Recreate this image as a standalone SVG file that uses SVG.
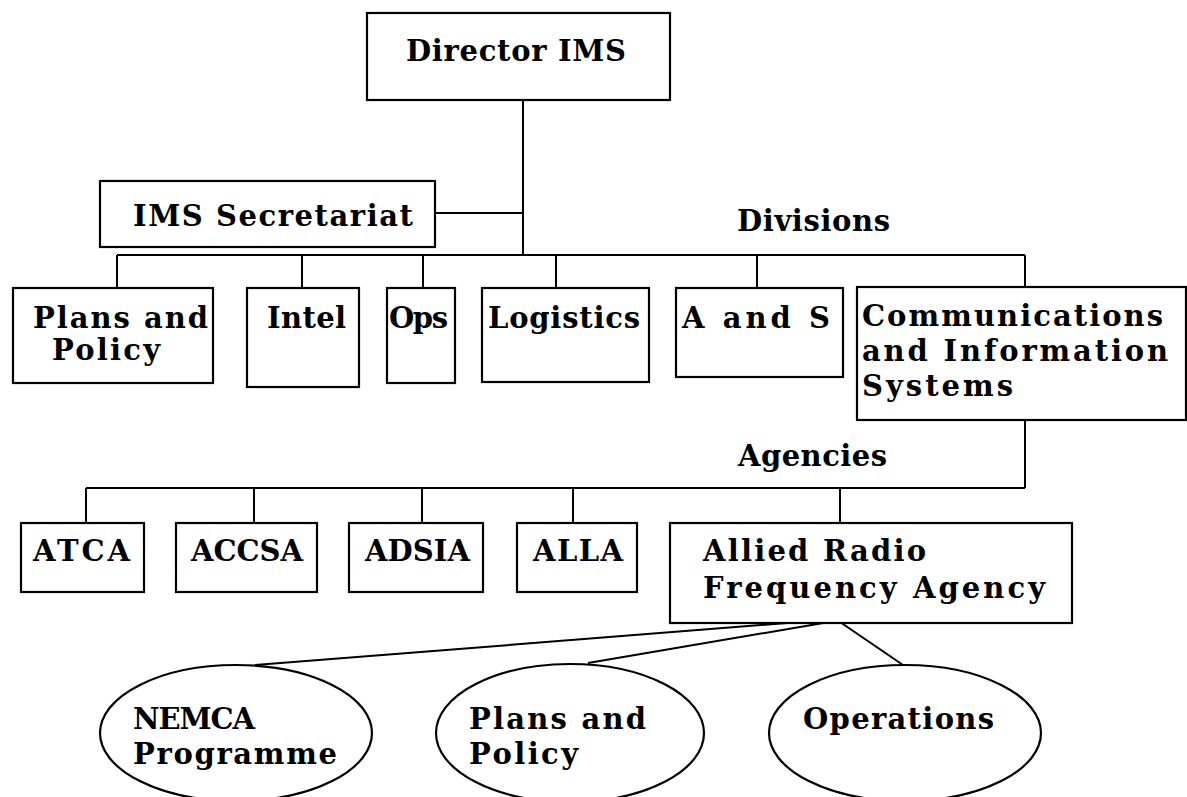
<svg xmlns="http://www.w3.org/2000/svg" width="1187" height="797" viewBox="0 0 1187 797">
<style>
.box{fill:#fff;stroke:#000;stroke-width:2.2}
.ell{fill:#fff;stroke:#000;stroke-width:2.2}
.ln{fill:none;stroke:#000;stroke-width:2}
text{font-family:"DejaVu Serif","Liberation Serif",serif;font-weight:bold;font-size:29px;fill:#000}
</style>
<rect width="1187" height="797" fill="#fff"/>
<g id="connectors">
<path class="ln" d="M523 100 V255 M435 213 H523 M117 255 H1025 M117 255 V288 M302 255 V288 M423 255 V288 M556 255 V288 M757 255 V288 M1025 255 V287"/>
<path class="ln" d="M1025 420 V488 M86 488 H1025 M86 488 V523 M254 488 V523 M422 488 V523 M573 488 V523 M840 488 V523"/>
<path class="ln" d="M800 622 L255 665 M835 621 L588 663 M840 622 L903 665"/>
</g>
<g id="director"><rect class="box" x="367" y="13" width="303" height="87"/><text x="406" y="61" textLength="220" lengthAdjust="spacing">Director IMS</text></g>
<g id="secretariat"><rect class="box" x="100" y="181" width="335" height="66"/><text x="133" y="226" textLength="280" lengthAdjust="spacing">IMS Secretariat</text></g>
<g id="label-divisions"><text x="737" y="231" textLength="153" lengthAdjust="spacing">Divisions</text></g>
<g id="plans"><rect class="box" x="13" y="288" width="200" height="95"/><text x="33" y="328" textLength="175" lengthAdjust="spacing">Plans and</text><text x="52" y="360" textLength="108" lengthAdjust="spacing">Policy</text></g>
<g id="intel"><rect class="box" x="247" y="288" width="112" height="99"/><text x="267" y="328" textLength="79" lengthAdjust="spacing">Intel</text></g>
<g id="ops"><rect class="box" x="387" y="288" width="68" height="95"/><text x="389" y="328" textLength="59" lengthAdjust="spacing">Ops</text></g>
<g id="logistics"><rect class="box" x="482" y="288" width="167" height="94"/><text x="488" y="328" textLength="152" lengthAdjust="spacing">Logistics</text></g>
<g id="aands"><rect class="box" x="676" y="288" width="167" height="89"/><text x="682" y="328" textLength="148" lengthAdjust="spacing">A and S</text></g>
<g id="cis"><rect class="box" x="857" y="287" width="329" height="133"/><text x="862" y="326" textLength="301" lengthAdjust="spacing">Communications</text><text x="862" y="361" textLength="306" lengthAdjust="spacing">and Information</text><text x="862" y="396" textLength="151" lengthAdjust="spacing">Systems</text></g>
<g id="label-agencies"><text x="738" y="466" textLength="149" lengthAdjust="spacing">Agencies</text></g>
<g id="atca"><rect class="box" x="21" y="523" width="123" height="69"/><text x="33" y="561" textLength="97" lengthAdjust="spacing">ATCA</text></g>
<g id="accsa"><rect class="box" x="176" y="523" width="141" height="69"/><text x="191" y="561" textLength="112" lengthAdjust="spacing">ACCSA</text></g>
<g id="adsia"><rect class="box" x="349" y="523" width="134" height="69"/><text x="365" y="561" textLength="105" lengthAdjust="spacing">ADSIA</text></g>
<g id="alla"><rect class="box" x="517" y="523" width="120" height="69"/><text x="533" y="561" textLength="90" lengthAdjust="spacing">ALLA</text></g>
<g id="arfa"><rect class="box" x="670" y="523" width="402" height="100"/><text x="703" y="561" textLength="223" lengthAdjust="spacing">Allied Radio</text><text x="703" y="598" textLength="342" lengthAdjust="spacing">Frequency Agency</text></g>
<g id="nemca"><ellipse class="ell" cx="236" cy="733" rx="136" ry="68"/><text x="133" y="729" textLength="122" lengthAdjust="spacing">NEMCA</text><text x="133" y="764" textLength="204" lengthAdjust="spacing">Programme</text></g>
<g id="plans2"><ellipse class="ell" cx="570" cy="733" rx="134" ry="69"/><text x="469" y="729" textLength="177" lengthAdjust="spacing">Plans and</text><text x="469" y="764" textLength="109" lengthAdjust="spacing">Policy</text></g>
<g id="operations"><ellipse class="ell" cx="905" cy="733" rx="136" ry="68"/><text x="803" y="729" textLength="191" lengthAdjust="spacing">Operations</text></g>
</svg>
